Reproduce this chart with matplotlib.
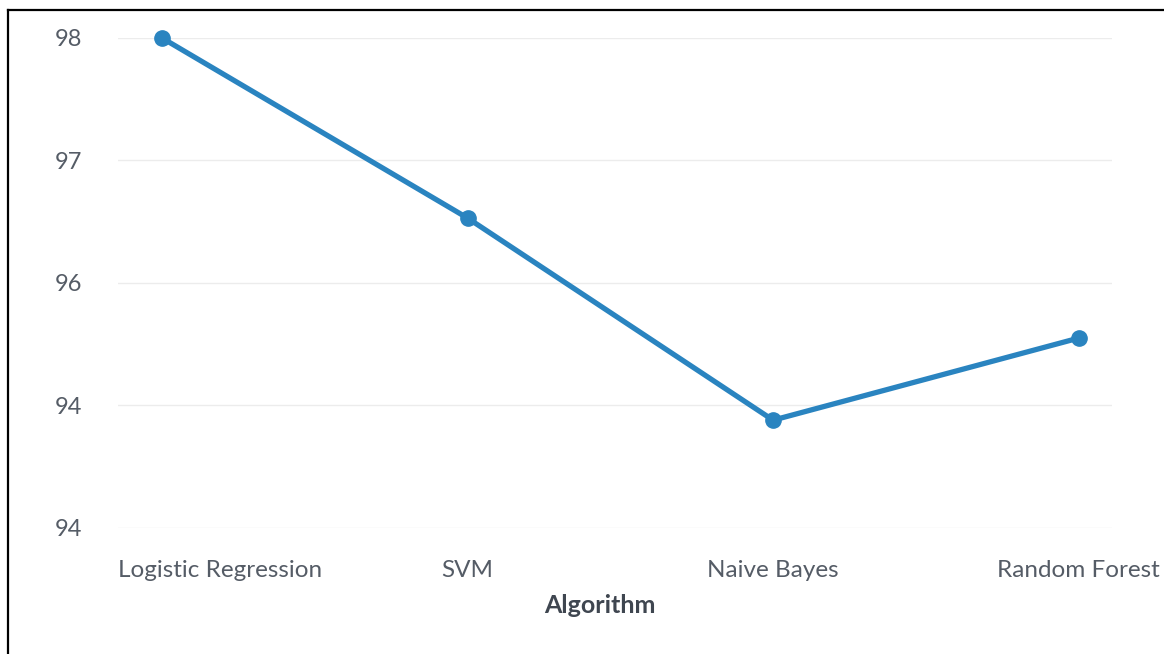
import matplotlib.pyplot as plt
from matplotlib.lines import Line2D
from matplotlib.transforms import ScaledTranslation

algorithms = ['Logistic Regression', 'SVM', 'Naive Bayes', 'Random Forest']
accuracy = [98.0, 96.53, 94.88, 95.55]
ytick_vals = [94, 95, 96, 97, 98]
ytick_labels = ['94', '94', '96', '97', '98']

plt.rcParams['font.family'] = ['Lato', 'DejaVu Sans']

fig = plt.figure(figsize=(11.64, 6.54), dpi=100)
ax = fig.add_axes([0.1014, 0.1927, 0.8536, 0.7492])

x = list(range(len(algorithms)))
ax.plot(x, accuracy, color='#2a84c0', linewidth=3.8, marker='o',
        markersize=11, clip_on=False, zorder=3)

ax.set_xlim(-0.144, 3.108)
ax.set_ylim(94, 98)
ax.set_xticks(x)
ax.set_xticklabels(algorithms)
ax.set_yticks(ytick_vals)
ax.set_yticklabels(ytick_labels)

ax.grid(axis='y', color='#ececec', linewidth=1)
ax.set_axisbelow(True)
for s in ax.spines.values():
    s.set_visible(False)
ax.tick_params(axis='y', length=0, labelsize=17, labelcolor='#555c66', pad=26)
ax.tick_params(axis='x', length=0, labelsize=17.5, labelcolor='#555c66', pad=23)

# first label sits flush with the plot's left edge, as in the source chart
first = ax.get_xticklabels()[0]
first.set_horizontalalignment('left')
first.set_transform(first.get_transform() + ScaledTranslation(-44/100, 0, fig.dpi_scale_trans))

ax.set_xlabel('Algorithm', fontsize=18, fontweight='bold', color='#3f4650', labelpad=10)
ax.xaxis.set_label_coords(0.485, -0.135)

# frame lines of the screenshot
fig.add_artist(Line2D([8/1164, 1], [1-10/654, 1-10/654], color='black', linewidth=1.6))
fig.add_artist(Line2D([8/1164, 8/1164], [0, 1-10/654], color='black', linewidth=1.6))

fig.savefig('out.png', dpi=100)
